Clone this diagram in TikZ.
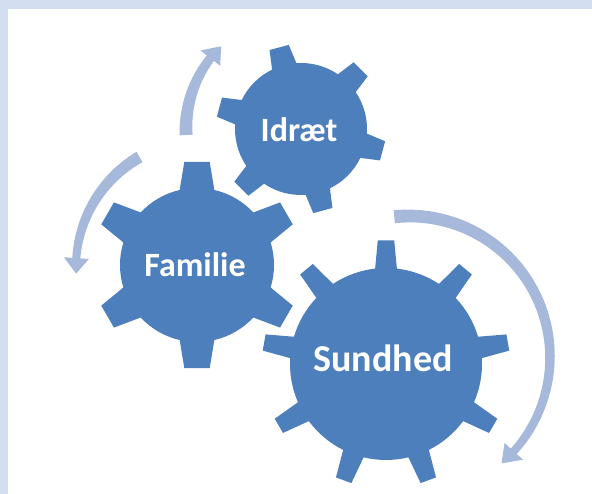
\documentclass[tikz,border=0pt]{standalone}
\usepackage{fontspec}
\setmainfont{Carlito}
\usetikzlibrary{calc}
\definecolor{framecol}{RGB}{211,223,241}
\definecolor{gearblue}{RGB}{76,127,188}
\definecolor{arrowblue}{RGB}{166,185,219}
% #1 cx, #2 cy, #3 body radius, #4 tip radius, #5 teeth, #6 first tooth angle, #7 half base angle, #8 half tip angle
\newcommand\mygear[8]{%
  \fill[gearblue] ({#1+#3*cos(#6-#7)},{#2+#3*sin(#6-#7)})
    \foreach \i in {1,...,#5}{
      -- ({#1+#4*cos(#6+(\i-1)*360/#5-#8)},{#2+#4*sin(#6+(\i-1)*360/#5-#8)})
      -- ({#1+#4*cos(#6+(\i-1)*360/#5+#8)},{#2+#4*sin(#6+(\i-1)*360/#5+#8)})
      -- ({#1+#3*cos(#6+(\i-1)*360/#5+#7)},{#2+#3*sin(#6+(\i-1)*360/#5+#7)})
      arc[start angle={#6+(\i-1)*360/#5+#7}, end angle={#6+\i*360/#5-#7}, radius=#3pt]
    } -- cycle;%
}
% #1 cx, #2 cy, #3 r, #4 tail angle, #5 head base angle, #6 tail width, #7 shaft width at head, #8 head width, #9 tip angle
\newcommand\myarrow[9]{%
  \fill[arrowblue]
    plot[domain=#4:#5,samples=50,variable=\t]
      ({#1+(#3+(#6+(#7-#6)*(\t-#4)/(#5-#4))/2)*cos(\t)},{#2+(#3+(#6+(#7-#6)*(\t-#4)/(#5-#4))/2)*sin(\t)})
    -- ({#1+(#3+#8/2)*cos(#5)},{#2+(#3+#8/2)*sin(#5)})
    -- ({#1+#3*cos(#9)},{#2+#3*sin(#9)})
    -- ({#1+(#3-#8/2)*cos(#5)},{#2+(#3-#8/2)*sin(#5)})
    -- plot[domain=#5:#4,samples=50,variable=\t]
      ({#1+(#3-(#6+(#7-#6)*(\t-#4)/(#5-#4))/2)*cos(\t)},{#2+(#3-(#6+(#7-#6)*(\t-#4)/(#5-#4))/2)*sin(\t)})
    -- cycle;%
}
\tikzset{geartext/.style={text=white,font=\bfseries,inner sep=0pt,anchor=base}}
\begin{document}
\begin{tikzpicture}[x=1pt,y=1pt]
\useasboundingbox (0,0) rectangle (592,494);
\fill[framecol] (0,0) rectangle (592,494);
\fill[white] (7.5,0) rectangle (592,484.5);
% arrows
\myarrow{301}{365}{115}{183}{142}{13}{9}{25}{134}
\myarrow{203}{227}{127}{120}{176}{12}{8}{25}{183}
\myarrow{409}{137}{141}{96}{-42}{13}{8}{25}{-49}
% gears
\mygear{301}{365}{66}{85}{6}{45}{11}{6.7}
\mygear{197}{229}{77}{104}{6}{30}{13}{7}
\mygear{386}{130}{96}{124}{9}{90}{6.5}{3.8}
% labels
\node[geartext,font=\bfseries\fontsize{34}{40}\selectfont] (idraet) at (299,352) {Idræt};
\node[geartext,font=\bfseries\fontsize{34}{40}\selectfont] (familie) at (195,217) {Familie};
\node[geartext,font=\bfseries\fontsize{38}{44}\selectfont] (sundhed) at (383,122) {Sundhed};
\end{tikzpicture}
\end{document}
